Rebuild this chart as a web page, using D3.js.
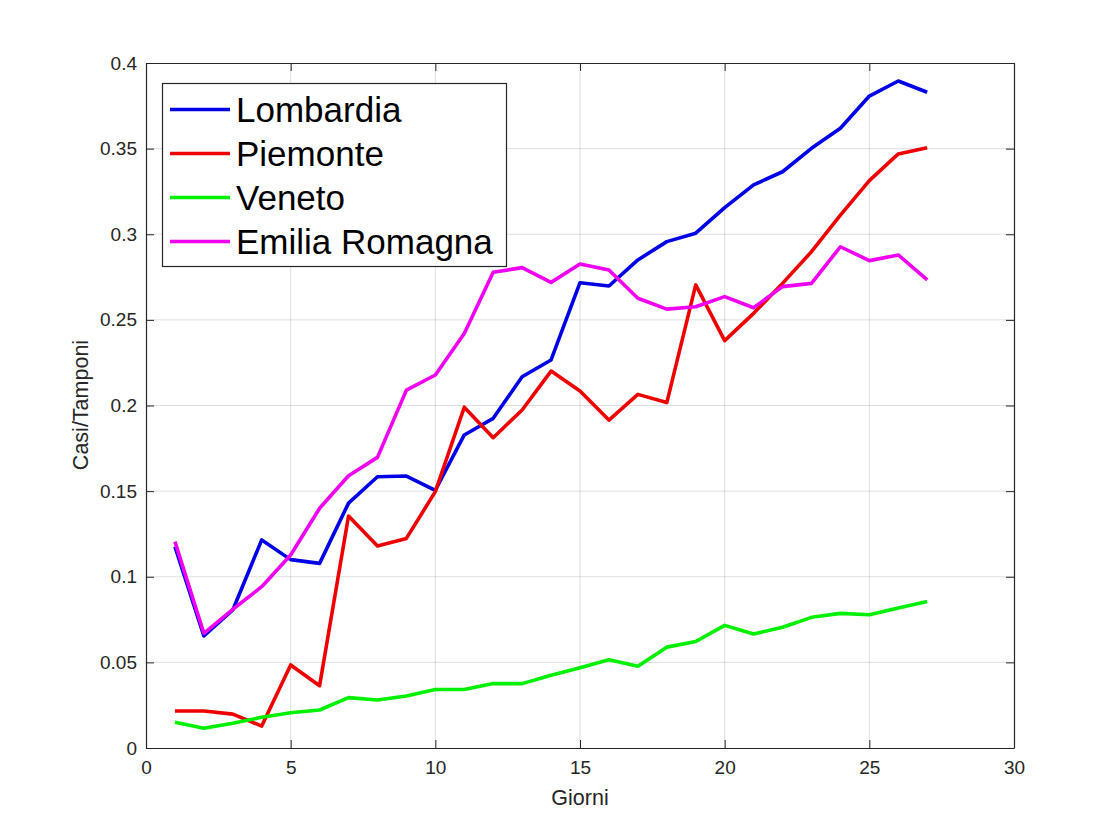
<!DOCTYPE html>
<html lang="it">
<head>
  <meta charset="UTF-8">
  <style>
    body {
      background: #ffffff;
      margin: 0;
      padding: 0;
      font-family: "Liberation Sans", Arial, sans-serif;
    }
    #chart {
      display: block;
    }
    .tick text {
      font-family: "Liberation Sans", Arial, sans-serif;
      font-size: 19px;
      fill: #262626;
    }
    .grid line {
      stroke: #000;
      stroke-opacity: 0.13;
    }
  </style>
</head>
<body>
  <svg id="chart" width="1120" height="840"></svg>

  <script src="https://d3js.org/d3.v7.min.js"></script>
  <script>
    // giorni 1..27
    const giorni = d3.range(1, 28);

    const regioni = ["Lombardia", "Piemonte", "Veneto", "Emilia Romagna"];
    const colori = ["#0000e6", "#ee0000", "#00f000", "#f000f0"];

    const lombardia = [0.1176, 0.0654, 0.0806, 0.1215, 0.1100, 0.1078, 0.1430, 0.1584, 0.1588, 0.1505,
      0.1828, 0.1925, 0.2168, 0.2266, 0.2717, 0.2698, 0.2850, 0.2957, 0.3006, 0.3155,
      0.3288, 0.3365, 0.3502, 0.3619, 0.3807, 0.3895, 0.3829];
    const piemonte = [0.0216, 0.0216, 0.0198, 0.0128, 0.0485, 0.0364, 0.1355, 0.1180, 0.1224, 0.1497,
      0.1990, 0.1812, 0.1974, 0.2201, 0.2085, 0.1915, 0.2065, 0.2017, 0.2704, 0.2379,
      0.2538, 0.2713, 0.2898, 0.3112, 0.3313, 0.3469, 0.3505];
    const veneto = [0.0150, 0.0115, 0.0144, 0.0179, 0.0206, 0.0222, 0.0294, 0.0280, 0.0304, 0.0342,
      0.0342, 0.0376, 0.0376, 0.0425, 0.0469, 0.0515, 0.0477, 0.0589, 0.0622, 0.0716,
      0.0666, 0.0705, 0.0763, 0.0786, 0.0778, 0.0817, 0.0855];
    const emilia = [0.1205, 0.0670, 0.0810, 0.0942, 0.1127, 0.1400, 0.1590, 0.1697, 0.2090, 0.2178,
      0.2421, 0.2778, 0.2805, 0.2719, 0.2826, 0.2791, 0.2626, 0.2563, 0.2577, 0.2636,
      0.2571, 0.2694, 0.2713, 0.2927, 0.2846, 0.2879, 0.2733];

    const xTicks = [0, 5, 10, 15, 20, 25, 30];
    const yTicks = [0, 0.05, 0.1, 0.15, 0.2, 0.25, 0.3, 0.35, 0.4];

    const serie = [lombardia, piemonte, veneto, emilia];

    let svg = d3.select("#chart");
    let mLeft = 146, mRight = 1014, mTop = 63, mBottom = 748;

    let x = d3.scaleLinear().domain([0, 30]).range([mLeft, mRight]);
    let y = d3.scaleLinear().domain([0, 0.4]).range([mBottom, mTop]);

    // griglia
    svg.append("g").attr("class", "grid")
      .selectAll("line").data(xTicks.slice(1, -1)).enter().append("line")
      .attr("x1", d => x(d)).attr("x2", d => x(d))
      .attr("y1", mTop).attr("y2", mBottom);
    svg.append("g").attr("class", "grid")
      .selectAll("line").data(yTicks.slice(1, -1)).enter().append("line")
      .attr("x1", mLeft).attr("x2", mRight)
      .attr("y1", d => y(d)).attr("y2", d => y(d));

    // assi (tick verso l'interno come in MATLAB)
    let fmtY = d => d === 0 ? "0" : String(+d.toFixed(2));
    let xAxis = svg.append("g").attr("transform", "translate(0," + mBottom + ")")
      .call(d3.axisBottom(x).tickValues(xTicks).tickSizeInner(-8).tickSizeOuter(0).tickPadding(13));
    let yAxis = svg.append("g").attr("transform", "translate(" + mLeft + ",0)")
      .call(d3.axisLeft(y).tickValues(yTicks).tickFormat(fmtY).tickSizeInner(-8).tickSizeOuter(0).tickPadding(9));
    let xTop = svg.append("g").attr("transform", "translate(0," + mTop + ")")
      .call(d3.axisTop(x).tickValues(xTicks).tickSizeInner(-8).tickSizeOuter(0).tickFormat(""));
    let yRight = svg.append("g").attr("transform", "translate(" + mRight + ",0)")
      .call(d3.axisRight(y).tickValues(yTicks).tickSizeInner(-8).tickSizeOuter(0).tickFormat(""));

    [xAxis, yAxis, xTop, yRight].forEach(a => {
      a.select(".domain").attr("stroke", "#262626").attr("stroke-width", 1.2);
      a.selectAll(".tick line").attr("stroke", "#262626");
    });

    // linee
    let line = d3.line()
      .x((d, i) => x(giorni[i]))
      .y(d => y(d));

    svg.append("g")
      .selectAll("path")
      .data(serie)
      .enter()
      .append("path")
      .attr("d", line)
      .attr("fill", "none")
      .attr("stroke", (d, i) => colori[i])
      .attr("stroke-width", 3.6)
      .attr("stroke-linejoin", "round");

    // etichette assi
    svg.append("text")
      .attr("x", (mLeft + mRight) / 2)
      .attr("y", 805)
      .attr("text-anchor", "middle")
      .attr("font-size", 21.5)
      .attr("fill", "#262626")
      .text("Giorni");
    svg.append("text")
      .attr("transform", "translate(88,405) rotate(-90)")
      .attr("text-anchor", "middle")
      .attr("font-size", 21.5)
      .attr("fill", "#262626")
      .text("Casi/Tamponi");

    // legenda
    let leg = svg.append("g");
    leg.append("rect")
      .attr("x", 162.5).attr("y", 83.5)
      .attr("width", 344).attr("height", 183)
      .attr("fill", "#fff")
      .attr("stroke", "#262626")
      .attr("stroke-width", 1.2);
    let rows = leg.selectAll("g.row")
      .data(regioni)
      .enter()
      .append("g")
      .attr("class", "row")
      .attr("transform", (d, i) => "translate(0," + (109.5 + i * 44) + ")");
    rows.append("line")
      .attr("x1", 170).attr("x2", 230)
      .attr("stroke", (d, i) => colori[i])
      .attr("stroke-width", 3.6);
    rows.append("text")
      .attr("x", 236)
      .attr("dy", "0.35em")
      .attr("font-size", 35)
      .attr("fill", "#000")
      .text(d => d);
  </script>
</body>
</html>
